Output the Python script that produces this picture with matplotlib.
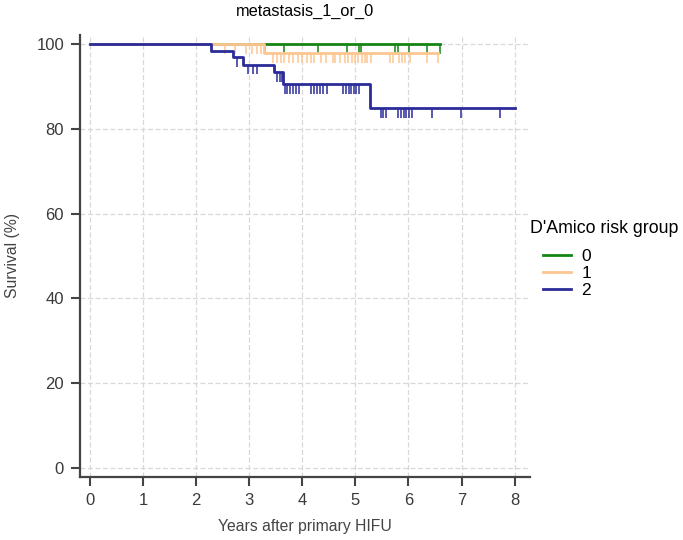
import numpy as np
import matplotlib
matplotlib.use("Agg")
from matplotlib import pyplot as plt

plt.rcParams['font.family'] = ['Liberation Sans', 'DejaVu Sans']

groups = ['0', '1', '2']
colors = ['#148414', '#fdc690', '#2b2b9a']

# Kaplan-Meier steps: event times and survival (%) after each event
event_times = {
    '0': [],
    '1': [3.28],
    '2': [2.27, 2.70, 2.89, 3.46, 3.64, 5.27],
}
event_surv = {
    '0': [],
    '1': [97.8],
    '2': [98.4, 96.8, 95.1, 93.4, 90.6, 84.8],
}
end_time = {'0': 6.60, '1': 6.55, '2': 8.0}

# censoring times
censor_times = {
    '0': [3.29, 3.66, 4.30, 4.85, 5.07, 5.11, 5.75, 5.81, 6.01, 6.35, 6.60],
    '1': [2.55, 2.73, 2.94, 3.05, 3.15, 3.23,
          3.45, 3.52, 3.59, 3.66, 3.74, 3.83, 3.92, 4.00, 4.08, 4.17, 4.22,
          4.36, 4.44, 4.57, 4.62, 4.71, 4.80, 4.86, 4.93, 4.99, 5.05, 5.12,
          5.18, 5.22, 5.30, 5.65, 5.70, 5.82, 5.87, 5.93, 6.03, 6.35, 6.55],
    '2': [2.76, 2.98, 3.07, 3.15, 3.52, 3.57, 3.61,
          3.67, 3.72, 3.77, 3.82, 3.88, 3.94, 4.17, 4.22, 4.28, 4.33, 4.38,
          4.46, 4.77, 4.82, 4.87, 4.92, 4.97, 5.02, 5.07,
          5.48, 5.52, 5.57, 5.81, 5.86, 5.91, 5.96, 6.01, 6.07, 6.45, 6.99,
          7.72],
}

fig = plt.figure(figsize=(6.83, 5.4), dpi=100)
ax = fig.add_axes([80 / 683, 63 / 540, 450 / 683, 442 / 540])

for g, c in zip(groups, colors):
    t = np.r_[0, event_times[g], end_time[g]]
    s = np.r_[100, event_surv[g], event_surv[g][-1] if event_surv[g] else 100]
    ax.step(t, s, where='post', color=c, lw=2.0, label=g, zorder=3)
    ct = np.array(censor_times[g])
    idx = np.searchsorted(t, ct, side='right') - 1
    cs = s[idx]
    ax.vlines(ct, cs - 2.3, cs, color=c, lw=1.1, zorder=3)

ax.set_xlim(-0.19, 8.29)
ax.set_ylim(-2.1, 102.1)
ax.set_xticks(range(0, 9))
ax.set_yticks(range(0, 101, 20))

ax.grid(True, color='#d8d8d8', lw=0.9, ls=(0, (4, 2)))
ax.set_axisbelow(True)
for side in ['top', 'right']:
    ax.spines[side].set_visible(False)
for side in ['left', 'bottom']:
    ax.spines[side].set_color('#444444')
    ax.spines[side].set_linewidth(1.6)
ax.tick_params(colors='#444444', width=1.5, length=6.5, labelsize=12,
               labelcolor='#3a3a3a', pad=5)

ax.set_xlabel('Years after primary HIFU', fontsize=11.3, color='#444444',
              labelpad=8)
ax.set_ylabel('Survival (%)', fontsize=11.3, color='#444444', labelpad=12)
ax.set_title('metastasis_1_or_0', fontsize=11.8, pad=14)

fig.text(530 / 683, 1 - 228 / 540, "D'Amico risk group", fontsize=12.8,
         va='center', ha='left')
fig.legend(loc='upper left', bbox_to_anchor=(543 / 683, 1 - 249 / 540),
           frameon=False, fontsize=12.5, handlelength=1.6, handletextpad=0.6,
           labelspacing=0.1, borderpad=0, borderaxespad=0)

fig.savefig('out.png', dpi=100)
